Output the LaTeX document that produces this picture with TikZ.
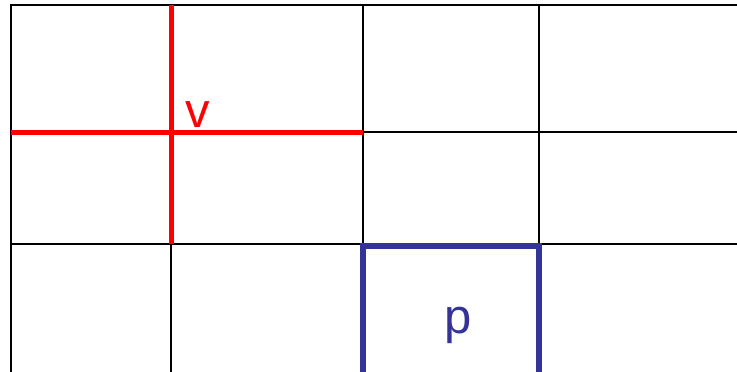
\documentclass[tikz,border=0pt]{standalone}
\usepackage{fontspec}
\setmainfont{Liberation Sans}
\definecolor{gridred}{HTML}{FF0000}
\definecolor{boxblue}{HTML}{333399}
\begin{document}
\begin{tikzpicture}[x=1pt,y=-1pt,
  gridline/.style={draw=black,line width=2.2pt},
  redline/.style={draw=gridred,line width=5pt},
  bluebox/.style={draw=boxblue,line width=5.2pt},
  biglabel/.style={font=\fontsize{49}{58}\selectfont,inner sep=0pt,anchor=base}]
\useasboundingbox (0,0) rectangle (737,372);
% black grid
\draw[gridline] (11,380) -- (11,5) -- (740,5);
\draw[gridline] (363,5) -- (363,244);
\draw[gridline] (363,132) -- (740,132);
\draw[gridline] (11,244) -- (740,244);
\draw[gridline] (539,5) -- (539,380);
\draw[gridline] (171,244) -- (171,380);
% red cross
\draw[redline] (171,5) -- (171,244);
\draw[redline] (11,132.5) -- (363,132.5);
% blue box
\draw[bluebox] (363,246) rectangle (539,385);
% labels
\node[biglabel,text=gridred] (v) at (198,127) {v};
\node[biglabel,text=boxblue] (p) at (458,333) {p};
\end{tikzpicture}
\end{document}
